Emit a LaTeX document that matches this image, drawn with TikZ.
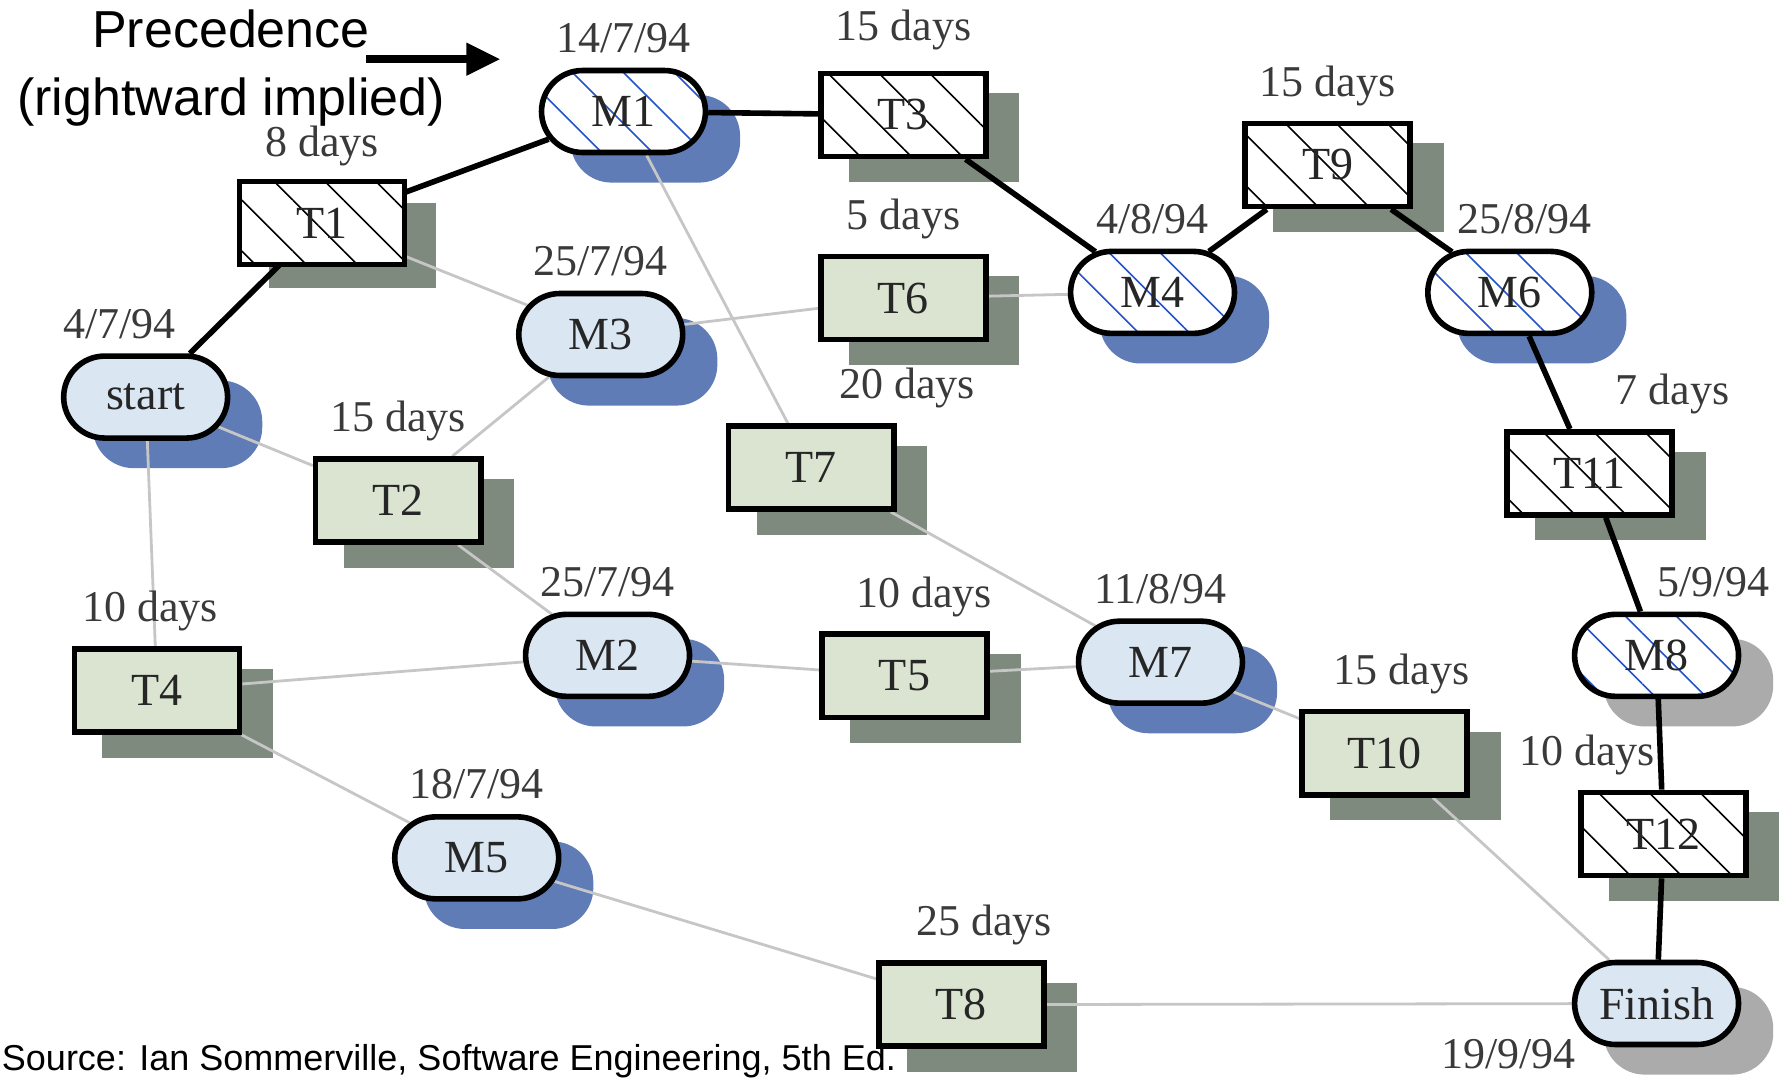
\documentclass[tikz,border=0pt]{standalone}
\usepackage{fontspec}
\setmainfont{Liberation Serif}
\setsansfont{Liberation Sans}
\usetikzlibrary{arrows.meta}
\usetikzlibrary{calc}
\usetikzlibrary{patterns.meta}
\usetikzlibrary{shapes.misc}

\definecolor{taskfill}{HTML}{DAE4D0}
\definecolor{taskshade}{HTML}{7E8A7E}
\definecolor{msfill}{HTML}{DAE6F2}
\definecolor{msshade}{HTML}{5F7CB6}
\definecolor{greyshade}{HTML}{ABABAB}
\definecolor{linkgrey}{HTML}{C6C6C6}
\definecolor{hatchblue}{HTML}{2452C8}
\definecolor{labeltext}{HTML}{3A3A3A}

\pgfdeclarelayer{shades}
\pgfdeclarelayer{links}
\pgfsetlayers{shades,links,main}

\tikzset{
  task/.style={draw,line width=1.4pt,fill=taskfill,minimum width=1.45cm,minimum height=0.73cm,inner sep=0pt,text=black!85,font=\fontsize{11.5}{14}\selectfont},
  ms/.style={rounded rectangle,draw,line width=1.4pt,fill=msfill,minimum width=1.44cm,minimum height=0.72cm,inner sep=0pt,text=black!85,font=\fontsize{11.5}{14}\selectfont},
  crittask/.style={task,preaction={fill=white},pattern={Lines[angle=-45,distance=9pt,line width=0.4pt]},pattern color=black},
  critms/.style={ms,preaction={fill=white},pattern={Lines[angle=-45,distance=9pt,line width=0.4pt]},pattern color=hatchblue},
  every label/.append style={font=\fontsize{11}{13}\selectfont,text=labeltext,inner sep=2pt},
  label distance=1.5pt,
  critical/.style={line width=1.4pt},
  link/.style={linkgrey,line width=0.7pt}
}

\begin{document}
\begin{tikzpicture}[x=0.01cm,y=-0.01cm]
  \useasboundingbox (0,0) rectangle (1568,948);

  % critical path
  \node (start) at (128,349)[ms,label={[xshift=-0.23cm]above:4/7/94}]{start};
  \node (T1) at (283,196)[crittask,label=above:8 days]{T1};
  \node (M1) at (548,98)[critms,label=above:14/7/94]{M1};
  \node (T3) at (794,101)[crittask,label={[yshift=0.05cm]above:15 days}]{T3};
  \node (M4) at (1013,257)[critms,label=above:4/8/94]{M4};
  \node (T9) at (1167,145)[crittask,label=above:15 days]{T9};
  \node (M6) at (1327,257)[critms,label={[xshift=0.13cm]above:25/8/94}]{M6};
  \node (T11) at (1397,416)[crittask,label={[xshift=0.73cm]above:7 days}]{T11};
  \node (M8) at (1456,576)[critms,label={[xshift=0.5cm]above:5/9/94}]{M8};
  \node (T12) at (1462,733)[crittask,label={[xshift=-0.67cm]above:10 days}]{T12};
  \node (Finish) at (1456,882)[ms,label={[xshift=-1.3cm,yshift=0.2cm]below:19/9/94}]{Finish};

  % other tasks and milestones
  \node (M3) at (528,294)[ms,label=above:25/7/94]{M3};
  \node (T6) at (794,262)[task,label=above:5 days]{T6};
  \node (T2) at (350,440)[task,label=above:15 days]{T2};
  \node (T7) at (713,411)[task,label={[xshift=0.84cm]above:20 days}]{T7};
  \node (M2) at (534,576)[ms,label=above:25/7/94]{M2};
  \node (T5) at (795,594)[task,label={[xshift=0.17cm]above:10 days}]{T5};
  \node (M7) at (1020,582)[ms,label=above:11/8/94]{M7};
  \node (T10) at (1217,662)[task,label={[xshift=0.15cm]above:15 days}]{T10};
  \node (T4) at (138,607)[task,label={[xshift=-0.06cm]above:10 days}]{T4};
  \node (M5) at (419,754)[ms,label=above:18/7/94]{M5};
  \node (T8) at (845,883)[task,label={[xshift=0.2cm]above:25 days}]{T8};

  % note
  \node (prec) at (203,60)[align=center,font=\sffamily\fontsize{13}{17}\selectfont]{Precedence\\(rightward implied)};
  \coordinate (arrtail) at (322,52);
  \coordinate (arrhead) at (440,52);
  \draw[line width=2pt,-{Triangle[length=0.3cm,width=0.27cm]}](arrtail)--(arrhead);
  \node (srcnote) at (1,933)[anchor=west,inner sep=0pt,font=\sffamily\fontsize{9}{11}\selectfont]{Source: Ian Sommerville, Software Engineering, 5th Ed.};

  \begin{pgfonlayer}{shades}
    \foreach \t in {T1,T2,T3,T4,T5,T6,T7,T8,T9,T10,T11,T12}
      \fill[taskshade] ($(\t.south west)+(27,20)$) rectangle ($(\t.north east)+(27,20)$);
    \foreach \m in {start,M1,M2,M3,M4,M5,M6,M7}
      \fill[msshade,rounded corners=0.36cm] ($(\m.west|-\m.south)+(28,24)$) rectangle ($(\m.east|-\m.north)+(28,24)$);
    \foreach \m in {M8,Finish}
      \fill[greyshade,rounded corners=0.36cm] ($(\m.west|-\m.south)+(28,24)$) rectangle ($(\m.east|-\m.north)+(28,24)$);
  \end{pgfonlayer}

  \begin{pgfonlayer}{links}
    \draw[critical](start)--(T1)--(M1)--(T3)--(M4)--(T9)--(M6)--(T11)--(M8)--(T12)--(Finish);
    \draw[link](T1)--(M3);
    \draw[link](start)--(T2);
    \draw[link](T2)--(M3);
    \draw[link](start)--(T4);
    \draw[link](M1)--(T7);
    \draw[link](M3)--(T6);
    \draw[link](T6)--(M4);
    \draw[link](T2)--(M2);
    \draw[link](T4)--(M2);
    \draw[link](M2)--(T5);
    \draw[link](T5)--(M7);
    \draw[link](T7)--(M7);
    \draw[link](M7)--(T10);
    \draw[link](T10)--(Finish);
    \draw[link](T4)--(M5);
    \draw[link](M5)--(T8);
    \draw[link](T8)--(Finish);
  \end{pgfonlayer}
\end{tikzpicture}
\end{document}
